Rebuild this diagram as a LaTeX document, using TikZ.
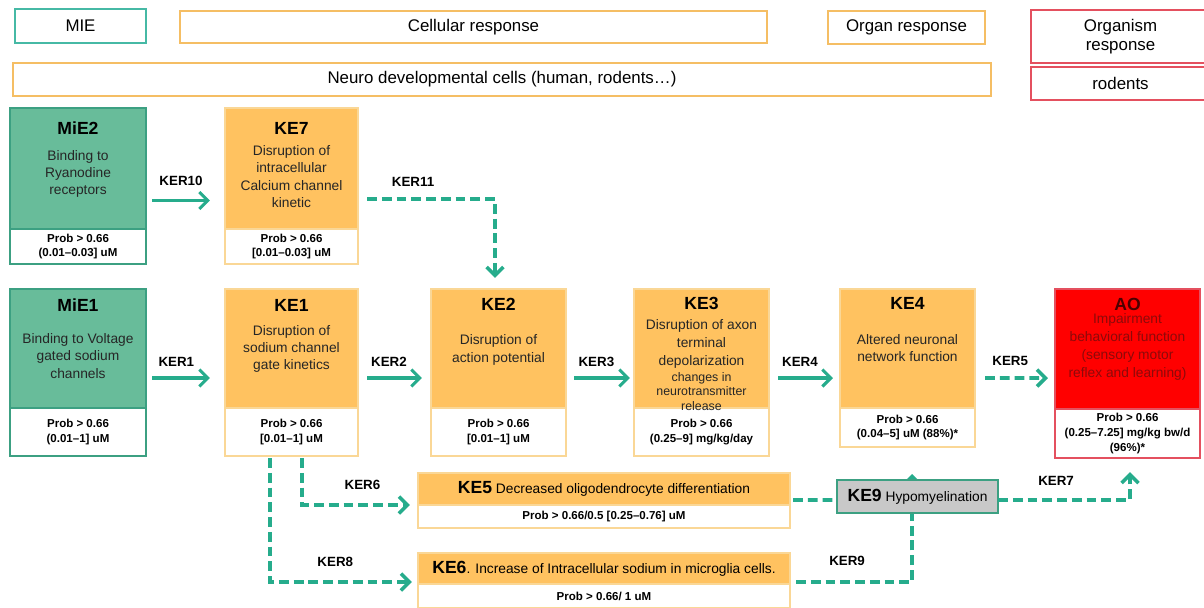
\documentclass[tikz,border=0pt]{standalone}
\usepackage{fontspec}
\setmainfont{Liberation Sans}
\usetikzlibrary{arrows.meta, positioning, calc, backgrounds}
\definecolor{kergreen}{RGB}{38, 172, 140}
\definecolor{miefill}{RGB}{104, 188, 154}
\definecolor{mieline}{RGB}{60, 160, 130}
\definecolor{kefill}{RGB}{255, 194, 96}
\definecolor{keline}{RGB}{250, 215, 150}
\definecolor{hdrorange}{RGB}{245, 190, 100}
\definecolor{hdrteal}{RGB}{70, 185, 165}
\definecolor{hdrred}{RGB}{228, 80, 95}
\definecolor{aofill}{RGB}{255, 0, 0}
\definecolor{aotext}{RGB}{140, 10, 10}
\definecolor{ke9fill}{RGB}{200, 200, 200}

\begin{document}
\begin{tikzpicture}[x=0.025cm, y=-0.025cm,
  hdr/.style={draw, fill=white, line width=1pt, inner sep=0pt, outer sep=0pt, align=center, font=\fontsize{12}{14}\selectfont},
  evt/.style={draw, line width=0.8pt, inner sep=0pt, outer sep=0pt, align=center, font=\fontsize{9.8}{12.2}\selectfont},
  prob/.style={draw, fill=white, line width=0.8pt, inner sep=0pt, outer sep=0pt, align=center, font=\fontsize{8.2}{10.6}\selectfont\bfseries},
  ttl/.style={font=\fontsize{12.5}{14}\selectfont\bfseries},
  txt/.style={align=center, text=black!85, font=\fontsize{9.8}{12.2}\selectfont},
  lbl/.style={text=black, font=\fontsize{9.5}{11}\selectfont\bfseries},
  arr/.style={kergreen, line width=2.2pt, -{Straight Barb[length=6pt, width=12pt]}},
  dasharr/.style={arr, line width=2.6pt, dash pattern=on 7pt off 3.5pt},
  dashline/.style={kergreen, line width=2.6pt, dash pattern=on 7pt off 3.5pt}
]
  \useasboundingbox (0,0) rectangle (1204,607);

  % header row
  \node[hdr, draw=hdrteal, minimum width=3.275cm, minimum height=0.85cm] (mie) at (80.5,26) {MIE};
  \node[hdr, draw=hdrorange, minimum width=14.675cm, minimum height=0.8cm] (cell) at (473.5,27) {Cellular response};
  \node[hdr, draw=hdrorange, minimum width=3.925cm, minimum height=0.825cm] (organ) at (906.5,27.5) {Organ response};
  \node[hdr, draw=hdrred, minimum width=4.475cm, minimum height=1.325cm] (organism) at (1120.5,36.5) {Organism\\response};
  \node[hdr, draw=hdrred, minimum width=4.475cm, minimum height=0.825cm] (rodents) at (1120.5,83.5) {rodents};
  \node[hdr, draw=hdrorange, minimum width=24.45cm, minimum height=0.825cm] (neuro) at (502,79.5) {Neuro developmental cells (human, rodents\dots)};

  % first row
  \node[evt, draw=mieline, fill=miefill, minimum width=3.4cm, minimum height=3.025cm] (mie2) at (78,168.5) {};
  \node[prob, draw=mieline, minimum width=3.4cm, minimum height=0.875cm, below=0pt of mie2] (mie2p) {Prob > 0.66\\(0.01--0.03] uM};
  \node[ttl] (mie2t) at (78,128) {MiE2};
  \node[txt] (mie2d) at (78,174) {Binding to\\Ryanodine\\receptors};

  \node[evt, draw=keline, fill=kefill, minimum width=3.325cm, minimum height=3.025cm] (ke7) at (291.5,168.5) {};
  \node[prob, draw=keline, minimum width=3.325cm, minimum height=0.875cm, below=0pt of ke7] (ke7p) {Prob > 0.66\\{[}0.01--0.03] uM};
  \node[ttl] (ke7t) at (291.5,128) {KE7};
  \node[txt] (ke7d) at (291.5,176.5) {Disruption of\\intracellular\\Calcium channel\\kinetic};

  % second row
  \node[evt, draw=mieline, fill=miefill, minimum width=3.4cm, minimum height=2.975cm] (mie1) at (78,348.5) {};
  \node[prob, draw=mieline, minimum width=3.4cm, minimum height=1.2cm, below=0pt of mie1] (mie1p) {Prob > 0.66\\(0.01--1] uM};
  \node[ttl] (mie1t) at (78,305) {MiE1};
  \node[txt] (mie1d) at (78,356) {Binding to Voltage\\gated sodium\\channels};

  \node[evt, draw=keline, fill=kefill, minimum width=3.325cm, minimum height=2.975cm] (ke1) at (291.5,348.5) {};
  \node[prob, draw=keline, minimum width=3.325cm, minimum height=1.2cm, below=0pt of ke1] (ke1p) {Prob > 0.66\\{[}0.01--1] uM};
  \node[ttl] (ke1t) at (291.5,305) {KE1};
  \node[txt] (ke1d) at (291.5,349) {Disruption of\\sodium channel\\gate kinetics};

  \node[evt, draw=keline, fill=kefill, minimum width=3.375cm, minimum height=2.975cm] (ke2) at (498.5,348.5) {};
  \node[prob, draw=keline, minimum width=3.375cm, minimum height=1.2cm, below=0pt of ke2] (ke2p) {Prob > 0.66\\{[}0.01--1] uM};
  \node[ttl] (ke2t) at (498.5,304) {KE2};
  \node[txt] (ke2d) at (498.5,350) {Disruption of\\action potential};

  \node[evt, draw=keline, fill=kefill, minimum width=3.375cm, minimum height=2.975cm] (ke3) at (701.5,348.5) {};
  \node[prob, draw=keline, minimum width=3.375cm, minimum height=1.2cm, below=0pt of ke3] (ke3p) {Prob > 0.66\\(0.25--9] mg/kg/day};
  \node[ttl] (ke3t) at (701.5,303) {KE3};
  \node[txt, font=\fontsize{9.8}{12.6}\selectfont] (ke3d) at (701.5,344) {Disruption of axon\\terminal\\depolarization};
  \node[txt, font=\fontsize{8.8}{10.4}\selectfont] (ke3e) at (701.5,391.5) {changes in\\neurotransmitter\\release};

  \node[evt, draw=keline, fill=kefill, minimum width=3.375cm, minimum height=2.975cm] (ke4) at (907.5,348.5) {};
  \node[prob, draw=keline, minimum width=3.375cm, minimum height=0.975cm, below=0pt of ke4] (ke4p) {Prob > 0.66\\(0.04--5] uM (88\%)*};
  \node[ttl] (ke4t) at (907.5,303) {KE4};
  \node[txt] (ke4d) at (907.5,348) {Altered neuronal\\network function};

  \node[evt, draw=hdrred, fill=aofill, minimum width=3.625cm, minimum height=3cm] (ao) at (1127.5,349) {};
  \node[prob, draw=hdrred, minimum width=3.625cm, minimum height=1.225cm, below=0pt of ao] (aop) {Prob > 0.66\\(0.25--7.25] mg/kg bw/d\\(96\%)*};
  \node[ttl, text=black!70!red] (aot) at (1127.5,304) {AO};
  \node[txt, text=aotext, font=\fontsize{9.8}{12.7}\selectfont] (aod) at (1127.5,347) {Impairment\\behavioral function\\(sensory motor\\reflex and learning)};

  % third row
  \node[evt, draw=keline, fill=kefill, minimum width=9.3cm, minimum height=0.8cm] (ke5) at (604,489) {{\fontsize{12.5}{14}\selectfont\bfseries KE5} Decreased oligodendrocyte differentiation};
  \node[prob, draw=keline, minimum width=9.3cm, minimum height=0.575cm, below=0pt of ke5] (ke5p) {Prob > 0.66/0.5 {[}0.25--0.76] uM};
  \node[evt, draw=keline, fill=kefill, minimum width=9.3cm, minimum height=0.775cm] (ke6) at (604,568.5) {{\fontsize{12.5}{14}\selectfont\bfseries KE6}. Increase of Intracellular sodium in microglia cells.};
  \node[prob, draw=keline, minimum width=9.3cm, minimum height=0.6cm, below=0pt of ke6] (ke6p) {Prob > 0.66/ 1 uM};
  \node[evt, draw=mieline, fill=ke9fill, minimum width=4.025cm, minimum height=0.825cm] (ke9) at (917.5,496.5) {{\fontsize{12.5}{14}\selectfont\bfseries KE9} Hypomyelination};

  % relationships
  \draw[arr] ($(mie2.east)+(6,32)$) -- node[lbl, above=6pt]{KER10} ($(ke7.west)+(-15,32)$);
  \draw[dasharr] ($(ke7.east)+(9,30.5)$) -| node[lbl, pos=0.18, above=4pt]{KER11} ($(ke2.north)+(-3.5,-11)$);
  \draw[arr] ($(mie1.east)+(6,29.5)$) -- node[lbl, pos=0.42, above=4pt]{KER1} ($(ke1.west)+(-15,29.5)$);
  \draw[arr] ($(ke1.east)+(9,29.5)$) -- node[lbl, pos=0.4, above=4pt]{KER2} ($(ke2.west)+(-9,29.5)$);
  \draw[arr] ($(ke2.east)+(8,29.5)$) -- node[lbl, pos=0.4, above=4pt]{KER3} ($(ke3.west)+(-4,29.5)$);
  \draw[arr] ($(ke3.east)+(9,29.5)$) -- node[lbl, pos=0.4, above=4pt]{KER4} ($(ke4.west)+(-7,29.5)$);
  \draw[dasharr] ($(ke4.east)+(10,29.5)$) -- node[lbl, pos=0.4, above=4pt]{KER5} ($(ao.west)+(-7,29)$);
  \draw[dasharr] ($(ke1p.south)+(10.5,2)$) |- node[lbl, pos=0.78, above=6pt]{KER6} ($(ke5p.north west)+(-8,0)$);
  \draw[dasharr] ($(ke1p.south)+(-21.5,2)$) |- node[lbl, pos=0.73, above=6pt]{KER8} ($(ke6p.north west)+(-6,-2)$);
  \draw[dashline] ($(ke5.east)+(3,11)$) -- ($(ke9.west)+(0,3.5)$);
  \draw[dasharr] ($(ke9.east)+(0,3.5)$) -| node[lbl, pos=0.22, above=6pt]{KER7} ($(aop.south)+(2.5,14)$);
  \coordinate (ke9tip) at ($(ke9.north)+(-5.5,-6)$);
  \begin{scope}[on background layer]
    \draw[dasharr] ($(ke6.east)+(6,13.5)$) -| node[lbl, pos=0.22, above=7pt]{KER9} (ke9tip);
  \end{scope}
\end{tikzpicture}
\end{document}
